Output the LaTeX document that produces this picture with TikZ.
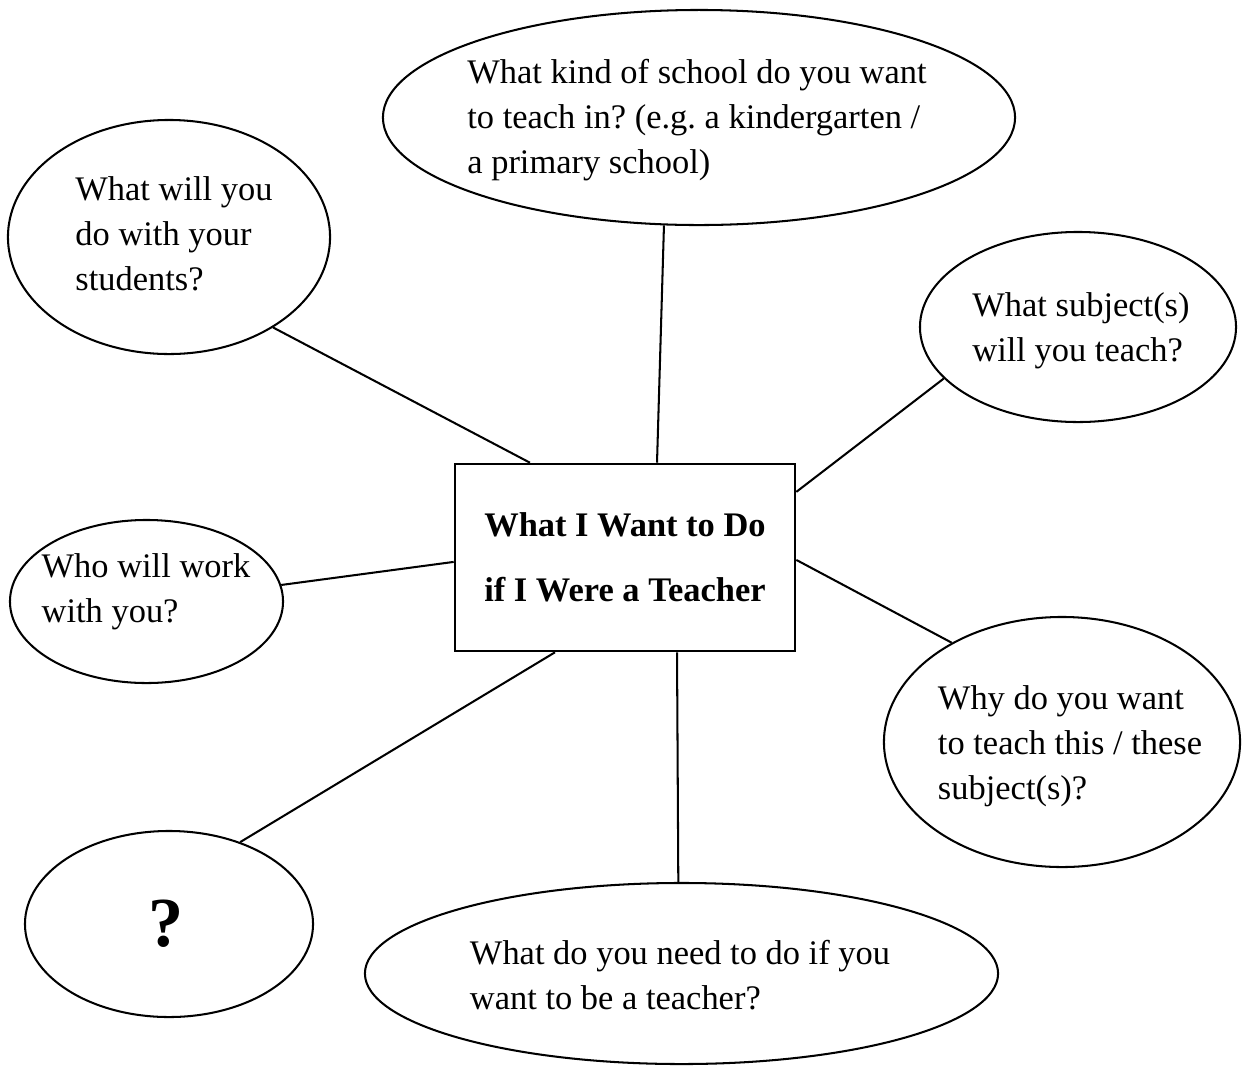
\documentclass[tikz,border=0pt]{standalone}
\usepackage{fontspec}
\setmainfont{Liberation Serif}
\usepackage{tikz}
\usetikzlibrary{shapes.geometric}
\frenchspacing

\begin{document}
\begin{tikzpicture}[
    x=0.025cm, y=-0.025cm,
    bubble/.style={draw, ellipse, line width=1.45pt, inner sep=0pt},
    question/.style={font=\fontsize{24.5}{32}\selectfont, align=left, inner sep=0pt},
    topicbox/.style={draw, rectangle, line width=1.8pt, minimum width=8.5cm, minimum height=4.675cm, font=\bfseries\fontsize{24.5}{46}\selectfont, align=center},
    link/.style={line width=1.45pt},
]
\useasboundingbox (0,0) rectangle (1243,1068);

% === Central topic ===
\node[topicbox] (topic) at (625,557.5) {What I Want to Do\\if I Were a Teacher};

% === Question bubbles ===
\node[bubble, minimum width=15.8cm, minimum height=5.375cm] (school) at (699,117.5) {};
\node[bubble, minimum width=8.05cm, minimum height=5.85cm] (students) at (169,237) {};
\node[bubble, minimum width=7.9cm, minimum height=4.75cm] (subjects) at (1078,327) {};
\node[bubble, minimum width=6.825cm, minimum height=4.075cm] (workers) at (146.5,601.5) {};
\node[bubble, minimum width=8.9cm, minimum height=6.25cm] (reasons) at (1062,742) {};
\node[bubble, minimum width=7.2cm, minimum height=4.65cm] (other) at (169,924) {};
\node[bubble, minimum width=15.825cm, minimum height=4.525cm] (prepare) at (681.5,973.5) {};

% === Bubble texts ===
\node[question] (schooltxt) at (697,120) {What kind of school do you want\\to teach in? (e.g. a kindergarten /\\a primary school)};
\node[question] (studentstxt) at (174,234) {What will you\\do with your\\students?};
\node[question] (subjectstxt) at (1081,331) {What subject(s)\\will you teach?};
\node[question] (workerstxt) at (146,592) {Who will work\\with you?};
\node[question] (reasonstxt) at (1070,746) {Why do you want\\to teach this / these\\subject(s)?};
\node[question, font=\bfseries\fontsize{50}{50}\selectfont] (othertxt) at (166,924) {?};
\node[question] (preparetxt) at (680,975) {What do you need to do if you\\want to be a teacher?};

% === Spokes ===
\draw[link] ([xshift=0.8cm]topic.north) -- (school.252);
\draw[link] ([xshift=-2.375cm]topic.north) -- (students.319);
\draw[link] ([yshift=1.64cm]topic.east) -- (subjects.201);
\draw[link] ([yshift=-0.11cm]topic.west) -- (workers.7);
\draw[link] ([yshift=-0.06cm]topic.east) -- (reasons.138);
\draw[link] ([xshift=-1.75cm]topic.south) -- (other.49);
\draw[link] ([xshift=1.3cm]topic.south) -- (prepare.92);

\end{tikzpicture}
\end{document}
